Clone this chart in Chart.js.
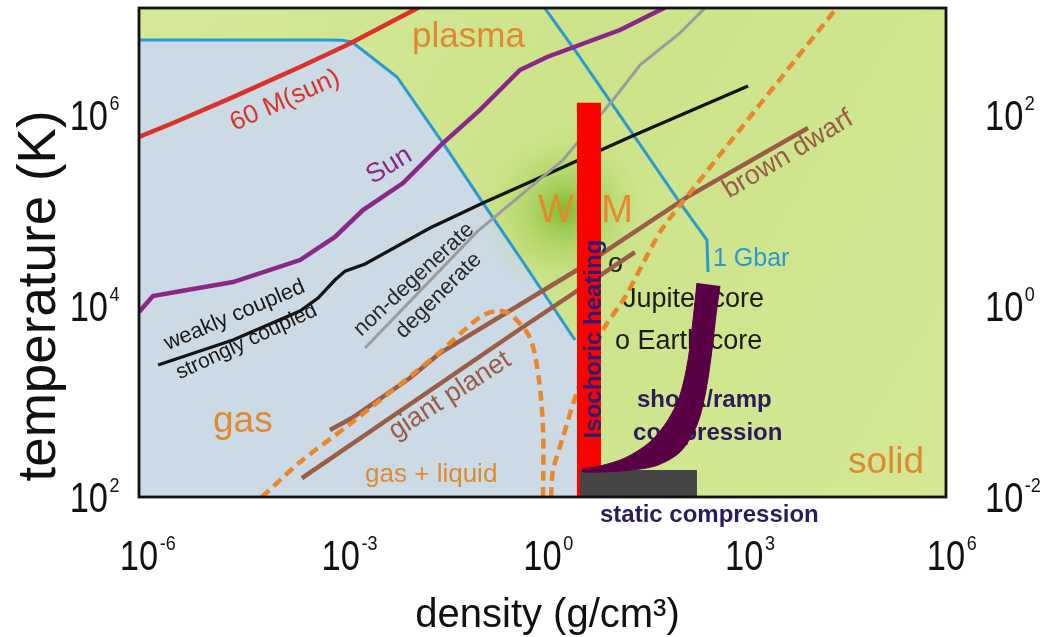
<!DOCTYPE html>
<html><head><meta charset="utf-8">
<script src="https://cdn.jsdelivr.net/npm/chart.js@4.4.1/dist/chart.umd.min.js"></script>
<style>html,body{margin:0;padding:0;background:#fff;}#wrap{width:1043px;height:637px;}</style>
</head><body><div id="wrap"><canvas id="c" width="1043" height="637"></canvas></div>
<script>
// ---------- axis ranges and ticks ----------
const X_MIN = 1e-6, X_MAX = 1e6;
const T_MIN = 1e2, T_MAX = 1.32e7;
const EV_MIN = 1e-2, EV_MAX = 1.32e3;
const xTicks = [1e-6, 1e-3, 1, 1e3, 1e6];
const xTickExp = ['-6', '-3', '0', '3', '6'];
const yTicks = [1e2, 1e4, 1e6];
const yTickExp = ['2', '4', '6'];
const y2Ticks = [1e-2, 1, 1e2];
const y2TickExp = ['-2', '0', '2'];

// ---------- curves (density g/cm3, temperature K) ----------
const sun60Rho = [1e-6, 3.21e-6, 2.50e-5, 2.48e-4, 1.24e-3, 2.36e-2];
const sun60T   = [5.89e5, 8.24e5, 1.54e6, 3.18e6, 5.41e6, 1.60e7];

const gasEdgeRho = [1e-6, 6.92e-4, 1.04e-3, 1.47e-3, 6.86e-3, 3.31e-2, 0.130, 0.513, 3.04];
const gasEdgeT   = [6.10e6, 6.10e6, 6.05e6, 5.81e6, 2.50e6, 5.09e5, 1.20e5, 2.89e4, 4.41e3];
const gasCloseRho = [3.3, 3.3];
const gasCloseT   = [4.41e3, 100];

const gbarRho = [0.887, 3.26, 25.4, 111, 279, 289];
const gbarT   = [1.60e7, 4.46e6, 5.47e5, 1.20e5, 4.91e4, 2.27e4];

const sunRho = [1e-6, 1.61e-6, 5.18e-6, 2.50e-5, 2.48e-4, 8.20e-4, 2.14e-3, 8.43e-3, 3.31e-2, 0.118, 0.462, 1.17, 14.2, 111];
const sunT   = [8.65e3, 1.27e4, 1.47e4, 1.78e4, 3.03e4, 5.28e4, 1.01e5, 1.94e5, 5.09e5, 1.13e6, 2.96e6, 4.05e6, 7.76e6, 1.60e7];

const couplingRho = [1.92e-6, 2.50e-5, 2.48e-4, 4.59e-4, 8.20e-4, 1.16e-3, 2.30e-3, 2.12e-2, 0.130, 0.652, 20.0, 1140];
const couplingT   = [2.41e3, 4.41e3, 8.87e3, 1.21e4, 1.87e4, 2.32e4, 2.75e4, 6.56e4, 1.20e5, 1.99e5, 5.89e5, 2.01e6];

const degenRho = [2.30e-3, 0.106, 2.02, 11.2, 28.2, 111, 343];
const degenT   = [3.63e3, 5.96e4, 3.38e5, 1.44e6, 3.34e6, 7.23e6, 1.60e7];

const browndwarfRho = [6.92e-4, 1.47e-3, 1.07e-2, 2.99e-2, 3.26, 141, 8870];
const browndwarfT   = [503, 671, 1760, 3220, 2.38e4, 1.38e5, 7.31e5];

const giantRho = [2.65e-4, 0.513, 23.7];
const giantT   = [158, 6.03e3, 3.67e4];

const domeRho = [6.75e-5, 2.48e-4, 1.37e-3, 1.19e-2, 2.99e-2, 0.118, 0.210, 0.329, 0.652, 0.887, 1.02, 1.02];
const domeT   = [100, 232, 581, 1940, 3300, 7670, 8870, 8240, 4630, 1680, 503, 100];

const meltRho = [1.34, 1.43, 2.02, 3.26, 7.94, 16.9, 55.9, 111, 2.94e4];
const meltT   = [100, 192, 425, 1260, 5610, 1.24e4, 5.96e4, 1.14e5, 1.60e7];

const isoRho = [4.91, 4.91];
const isoT   = [100, 1.34e6];

const staticRho = [3.61, 198];
const staticT   = [192, 192];

const shockRho = [198, 173, 146, 111, 73.5, 39.7, 16.9, 7.16, 4.00, 4.00, 14.2, 47.1, 111, 198, 270, 331, 380, 436];
const shockT   = [1.74e4, 7.13e3, 2.72e3, 1.17e3, 640, 377, 256, 211, 196, 183, 187, 211, 296, 567, 1320, 3460, 8050, 1.62e4];

const glowRho = [2.16];
const glowT   = [1.01e5];

// ---------- styles ----------
const C = {
  red: '#d8322a', blue: '#2a9ad2', purple: '#8c2689', black: '#141414', gray: '#9c9c9c',
  brown: '#9a5c46', orange: '#e8882b', region: '#e08a2f', navy: '#2c1b5c', navy2: '#2a1e74',
  gasBlue: '#cbdae5', bar: '#ff0000', stat: '#454545', band: '#5a0046'
};
const FONT = "'Liberation Sans', Arial, sans-serif";
const GLOW_R = 85;

function pts(xs, ys) { return xs.map((v, i) => ({x: v, y: ys[i]})); }

const layers = [
  {id: 'gasRegion', data: pts(gasEdgeRho.concat(gasCloseRho), gasEdgeT.concat(gasCloseT)), borderWidth: 0, fill: 'start', backgroundColor: C.gasBlue},
  {id: 'glow', data: pts(glowRho, glowT), showLine: false},
  {id: 'gasEdge', data: pts(gasEdgeRho, gasEdgeT), borderColor: C.blue, borderWidth: 3},
  {id: 'gbar', data: pts(gbarRho, gbarT), borderColor: C.blue, borderWidth: 3},
  {id: 'sun60', data: pts(sun60Rho, sun60T), borderColor: C.red, borderWidth: 4.5},
  {id: 'sun', data: pts(sunRho, sunT), borderColor: C.purple, borderWidth: 4.5},
  {id: 'coupling', data: pts(couplingRho, couplingT), borderColor: C.black, borderWidth: 3.3},
  {id: 'degen', data: pts(degenRho, degenT), borderColor: C.gray, borderWidth: 3},
  {id: 'browndwarf', data: pts(browndwarfRho, browndwarfT), borderColor: C.brown, borderWidth: 4.5},
  {id: 'giant', data: pts(giantRho, giantT), borderColor: C.brown, borderWidth: 4.5},
  {id: 'dome', data: pts(domeRho, domeT), borderColor: C.orange, borderWidth: 4.5, borderDash: [10, 6], tension: 0.3},
  {id: 'melt', data: pts(meltRho, meltT), borderColor: C.orange, borderWidth: 4.5, borderDash: [10, 6], tension: 0.2},
  {id: 'iso', data: pts(isoRho, isoT), borderColor: C.bar, borderWidth: 24, borderCapStyle: 'butt'},
  {id: 'static', data: pts(staticRho, staticT), borderWidth: 0, fill: 'start', backgroundColor: C.stat},
  {id: 'shock', data: pts(shockRho, shockT), borderWidth: 1, borderColor: C.band, fill: 'shape', backgroundColor: C.band, tension: 0.3}
];
const N = layers.length;
const datasets = layers.map((d, i) => Object.assign({
  showLine: true, pointRadius: 0, pointHoverRadius: 0, tension: 0, fill: false,
  clip: 0, order: N - i, borderColor: 'rgba(0,0,0,0)', backgroundColor: 'rgba(0,0,0,0)'
}, d));

// ---------- annotations (positions in data coordinates) ----------
const regionLabels = [
  {t: 'plasma', x: 1.15e-2, y: 5.15e6, f: '35px', c: C.region},
  {t: 'WDM', x: 0.857, y: 7.59e4, f: '38px', c: '#e5892c'},
  {t: 'gas', x: 1.26e-5, y: 480, f: '37px', c: C.region},
  {t: 'solid', x: 3.49e4, y: 178, f: '37px', c: C.region},
  {t: 'gas + liquid', x: 2.30e-3, y: 144, f: '26px', c: C.region},
  {t: 'o', x: 9.42, y: 2.27e4, f: '27px', c: '#1c1c1c'},
  {t: 'Jupiter core', x: 15.7, y: 9.77e3, f: '27px', c: '#1c1c1c'},
  {t: 'o Earth core', x: 12.0, y: 3.55e3, f: '27px', c: '#1c1c1c'},
  {t: '1 Gbar', x: 343, y: 2.62e4, f: '25px', c: C.blue},
  {t: 'shock/ramp', x: 25.4, y: 875, f: 'bold 24px', c: C.navy},
  {t: 'compression', x: 22.2, y: 395, f: 'bold 24px', c: C.navy}
];
const lineLabels = [
  {t: '60 M(sun)', x: 1.64e-4, y: 1.21e6, f: '26px', c: C.red, a: 'center', r: -24},
  {t: 'Sun', x: 5.98e-3, y: 2.53e5, f: '27px', c: C.purple, a: 'center', r: -31},
  {t: 'weakly coupled', x: 2.86e-5, y: 6.97e3, f: '22px', c: '#1a1a1a', a: 'center', r: -23},
  {t: 'strongly coupled', x: 4.33e-5, y: 3.72e3, f: '21px', c: '#1a1a1a', a: 'center', r: -25},
  {t: 'non-degenerate', x: 1.41e-2, y: 1.70e4, f: '22px', c: '#2a2a2a', a: 'center', r: -43},
  {t: 'degenerate', x: 3.31e-2, y: 1.16e4, f: '22px', c: '#2a2a2a', a: 'center', r: -45},
  {t: 'giant planet', x: 4.83e-2, y: 989, f: '27px', c: C.brown, a: 'center', r: -33},
  {t: 'brown dwarf', x: 5130, y: 3.30e5, f: '27px', c: C.brown, a: 'center', r: -31},
  {t: 'Isochoric heating', x: 7.41, y: 4.51e3, f: 'bold 24px', c: C.navy2, a: 'center', r: -90},
  {t: 'static compression', x: 7.16, y: 54.7, f: 'bold 24px', c: C.navy}
];

function drawLabels(chart, list) {
  const ctx = chart.ctx, xs = chart.scales.x, ys = chart.scales.y;
  list.forEach(L => {
    const px = xs.getPixelForValue(L.x), py = ys.getPixelForValue(L.y);
    ctx.save();
    ctx.translate(px, py);
    if (L.r) ctx.rotate(L.r * Math.PI / 180);
    ctx.font = L.f + ' ' + FONT;
    ctx.fillStyle = L.c;
    ctx.textAlign = L.a || 'left';
    ctx.textBaseline = 'alphabetic';
    ctx.fillText(L.t, 0, 0);
    ctx.restore();
  });
}

function drawPow(ctx, x, base, exp, mode) {
  const SX = 0.82;
  ctx.save();
  ctx.fillStyle = '#111';
  ctx.textBaseline = 'alphabetic';
  ctx.textAlign = 'left';
  ctx.font = '42px ' + FONT;
  const w = ctx.measureText('10').width * SX;
  let x0;
  if (mode === 'center') x0 = x - w / 2;
  else if (mode === 'right') x0 = x - w;
  else x0 = x;
  ctx.save(); ctx.translate(x0, base); ctx.scale(SX, 1); ctx.fillText('10', 0, 0); ctx.restore();
  ctx.font = '20px ' + FONT;
  ctx.save(); ctx.translate(x0 + w + 1.5, base - 20); ctx.scale(0.9, 1); ctx.fillText(exp, 0, 0); ctx.restore();
  ctx.restore();
}

function drawGlow(chart, index) {
  const el = chart.getDatasetMeta(index).data[0];
  if (!el || !isFinite(el.x) || !isFinite(el.y)) return;
  const ctx = chart.ctx, a = chart.chartArea;
  const g = ctx.createRadialGradient(el.x, el.y, 0, el.x, el.y, GLOW_R);
  g.addColorStop(0, 'rgba(118,182,38,0.9)');
  g.addColorStop(0.45, 'rgba(150,200,70,0.45)');
  g.addColorStop(1, 'rgba(190,220,120,0)');
  ctx.save();
  ctx.beginPath(); ctx.rect(a.left, a.top, a.right - a.left, a.bottom - a.top); ctx.clip();
  ctx.fillStyle = g;
  ctx.beginPath(); ctx.arc(el.x, el.y, GLOW_R, 0, Math.PI * 2); ctx.fill();
  ctx.restore();
}

const bgPlugin = {
  id: 'bg',
  beforeDraw(chart) {
    const ctx = chart.ctx, a = chart.chartArea;
    ctx.save();
    ctx.fillStyle = '#fff';
    ctx.fillRect(0, 0, chart.width, chart.height);
    const g = ctx.createLinearGradient(a.left, a.top, a.right, a.bottom);
    g.addColorStop(0, '#d6e99a');
    g.addColorStop(0.45, '#cce389');
    g.addColorStop(1, '#d4e894');
    ctx.fillStyle = g;
    ctx.fillRect(a.left, a.top, a.right - a.left, a.bottom - a.top);
    ctx.restore();
  }
};

const annoPlugin = {
  id: 'anno',
  beforeDatasetDraw(chart, args) {
    const id = chart.data.datasets[args.index].id;
    if (id === 'glow') drawGlow(chart, args.index);
    if (id === 'gasEdge') drawLabels(chart, regionLabels);
  },
  afterDatasetsDraw(chart) {
    const ctx = chart.ctx, a = chart.chartArea;
    drawLabels(chart, lineLabels);
    ctx.save();
    ctx.strokeStyle = '#111';
    ctx.lineWidth = 2.8;
    ctx.strokeRect(a.left, a.top, a.right - a.left, a.bottom - a.top);
    ctx.restore();
    const xs = chart.scales.x, ys = chart.scales.y, y2 = chart.scales.y2;
    xTicks.forEach((v, i) => drawPow(ctx, xs.getPixelForValue(v), a.bottom + 73, xTickExp[i], 'center'));
    yTicks.forEach((v, i) => drawPow(ctx, a.left - 31, ys.getPixelForValue(v) + 15, yTickExp[i], 'right'));
    y2Ticks.forEach((v, i) => drawPow(ctx, a.right + 39, y2.getPixelForValue(v) + 15, y2TickExp[i], 'left'));
    ctx.save();
    ctx.fillStyle = '#111';
    ctx.textBaseline = 'alphabetic';
    ctx.textAlign = 'center';
    ctx.font = '40px ' + FONT;
    ctx.fillText('density (g/cm³)', (a.left + a.right) / 2 + 5, a.bottom + 130);
    ctx.translate(55, 296);
    ctx.rotate(-Math.PI / 2);
    ctx.font = '53px ' + FONT;
    ctx.fillText('temperature (K)', 0, 0);
    ctx.restore();
  }
};

new Chart(document.getElementById('c'), {
  type: 'scatter',
  data: {datasets},
  options: {
    responsive: false,
    animation: false,
    events: [],
    layout: {padding: {left: 139, right: 97, top: 8, bottom: 140}},
    plugins: {legend: {display: false}, tooltip: {enabled: false}},
    scales: {
      x: {type: 'logarithmic', min: X_MIN, max: X_MAX, display: false},
      y: {type: 'logarithmic', min: T_MIN, max: T_MAX, display: false},
      y2: {type: 'logarithmic', position: 'right', min: EV_MIN, max: EV_MAX, display: false}
    }
  },
  plugins: [bgPlugin, annoPlugin]
});
</script>
</body></html>
